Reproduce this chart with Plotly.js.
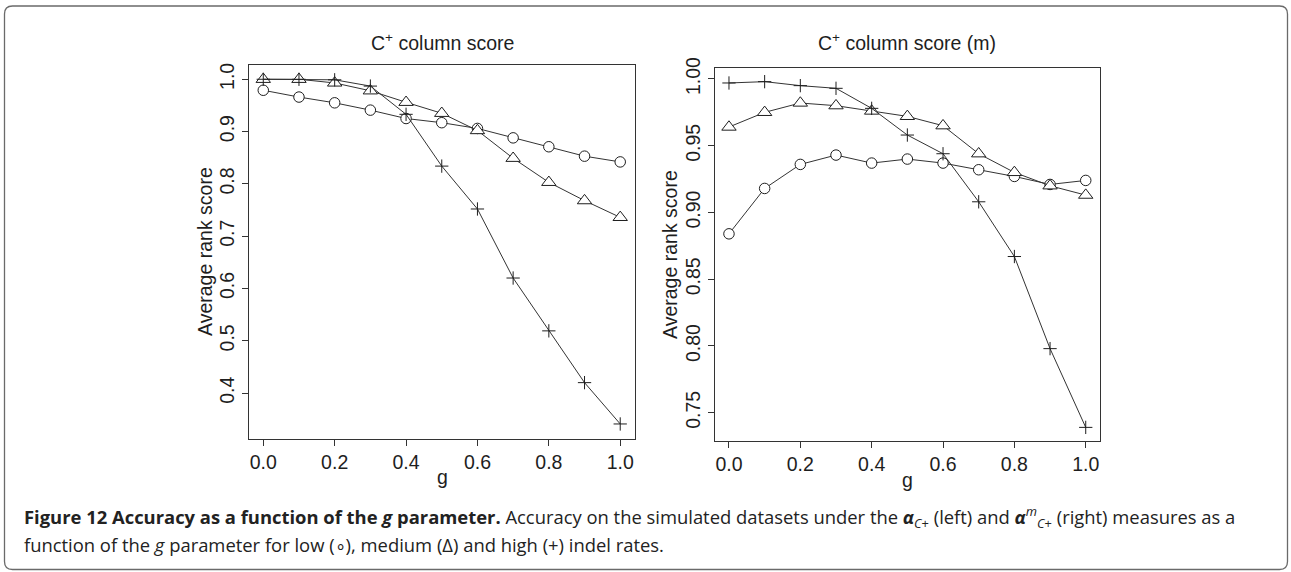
<!DOCTYPE html>
<html>
<head>
<meta charset="utf-8">
<script src="https://cdn.plot.ly/plotly-3.0.1.min.js"></script>
<style>
  html, body { margin: 0; padding: 0; background: #ffffff; }
  #chart { width: 1291px; height: 572px; }
</style>
</head>
<body>
<div id="chart"></div>
<script>
// g parameter values
const gValues = [0.0, 0.1, 0.2, 0.3, 0.4, 0.5, 0.6, 0.7, 0.8, 0.9, 1.0];

// Left panel: C+ column score, average rank score by indel rate
const leftLow  = [0.979, 0.966, 0.955, 0.941, 0.925, 0.917, 0.906, 0.888, 0.871, 0.853, 0.842];
const leftMed  = [1.000, 1.000, 0.993, 0.978, 0.956, 0.935, 0.902, 0.849, 0.803, 0.768, 0.736];
const leftHigh = [1.000, 1.000, 0.999, 0.987, 0.933, 0.834, 0.752, 0.620, 0.519, 0.420, 0.341];

// Right panel: C+ column score (m)
const rightLow  = [0.884, 0.918, 0.936, 0.943, 0.937, 0.940, 0.937, 0.932, 0.927, 0.921, 0.924];
const rightMed  = [0.964, 0.975, 0.982, 0.980, 0.976, 0.972, 0.965, 0.944, 0.930, 0.920, 0.913];
const rightHigh = [0.997, 0.998, 0.995, 0.993, 0.978, 0.958, 0.944, 0.908, 0.867, 0.798, 0.739];

// Tick labels
const xTickVals = [0, 0.2, 0.4, 0.6, 0.8, 1.0];
const xTickText = ["0.0", "0.2", "0.4", "0.6", "0.8", "1.0"];
const leftYTickVals = [0.4, 0.5, 0.6, 0.7, 0.8, 0.9, 1.0];
const leftYTickText = ["0.4", "0.5", "0.6", "0.7", "0.8", "0.9", "1.0"];
const rightYTickVals = [0.75, 0.80, 0.85, 0.90, 0.95, 1.00];
const rightYTickText = ["0.75", "0.80", "0.85", "0.90", "0.95", "1.00"];

const W = 1291, H = 572;
const px = v => v / W;          // horizontal pixel -> paper
const py = v => 1 - v / H;      // vertical pixel -> paper

const INK = '#1e1e1e';
const LINE = '#333333';
const FONT = 'Liberation Sans, Arial, Helvetica, sans-serif';
const FS = 19.5;

function series(x, y, xa, ya, symbol, size) {
  const open = symbol === 'cross-thin-open';
  return {
    x: x, y: y, xaxis: xa, yaxis: ya,
    type: 'scatter', mode: 'lines+markers',
    line: { color: LINE, width: 1 },
    marker: {
      symbol: symbol, size: size,
      color: open ? INK : '#ffffff',
      line: { color: INK, width: 1 }
    },
    hoverinfo: 'x+y', showlegend: false, cliponaxis: false
  };
}

const traces = [
  series(gValues, leftLow,  'x',  'y',  'circle', 10.5),
  series(gValues, leftMed,  'x',  'y',  'triangle-up', 12.5),
  series(gValues, leftHigh, 'x',  'y',  'cross-thin-open', 9.5),
  series(gValues, rightLow,  'x2', 'y2', 'circle', 10.5),
  series(gValues, rightMed,  'x2', 'y2', 'triangle-up', 12.5),
  series(gValues, rightHigh, 'x2', 'y2', 'cross-thin-open', 9.5)
];

function xAxis(domain, anchor) {
  return {
    domain: domain, anchor: anchor, range: [-0.04, 1.04],
    tickmode: 'array', tickvals: xTickVals, ticktext: xTickText,
    ticks: 'outside', ticklen: 6, tickwidth: 1, tickcolor: LINE,
    showline: true, mirror: true, linecolor: LINE, linewidth: 1,
    showgrid: false, zeroline: false,
    tickfont: { family: FONT, size: FS, color: INK }
  };
}
function yAxis(domain, anchor, range, vals, text) {
  return {
    domain: domain, anchor: anchor, range: range,
    tickmode: 'array', tickvals: vals, ticktext: text, tickangle: -90,
    ticks: 'outside', ticklen: 6, tickwidth: 1, tickcolor: LINE,
    showline: true, mirror: true, linecolor: LINE, linewidth: 1,
    showgrid: false, zeroline: false,
    tickfont: { family: FONT, size: FS, color: INK }
  };
}

function label(text, x, y, opts) {
  return Object.assign({
    text: text, xref: 'paper', yref: 'paper', x: px(x), y: py(y),
    xanchor: 'center', yanchor: 'middle', showarrow: false,
    font: { family: FONT, size: FS, color: INK }
  }, opts || {});
}

const capFont = { family: 'Open Sans, Noto Sans, sans-serif', size: 18.4, color: '#222222' };

const annotations = [
  label('C<sup>+</sup> column score', 442, 42),
  label('C<sup>+</sup> column score (m)', 907, 42),
  label('Average rank score', 205, 252, { textangle: -90 }),
  label('Average rank score', 670, 255, { textangle: -90 }),
  label('g', 442, 477),
  label('g', 907, 480),
  {
    text: '<b>Figure 12 Accuracy as a function of the <i>g</i> parameter.</b> Accuracy on the simulated datasets under the ' +
          '<b><i>α</i></b><sub><i>C</i>+</sub> (left) and <b><i>α</i></b><sup><i>m</i></sup><sub><i>C</i>+</sub> (right) measures as a',
    xref: 'paper', yref: 'paper', x: px(22), y: py(517),
    xanchor: 'left', yanchor: 'middle', showarrow: false, font: capFont
  },
  {
    text: 'function of the <i>g</i> parameter for low (∘), medium (Δ) and high (+) indel rates.',
    xref: 'paper', yref: 'paper', x: px(22), y: py(544),
    xanchor: 'left', yanchor: 'middle', showarrow: false, font: capFont
  }
];

// rounded frame around the figure
const fx0 = px(4.5), fx1 = px(1287.5), fy0 = py(6), fy1 = py(569.5);
const rx = px(8), ry = 8 / H;
const framePath =
  `M ${fx0 + rx},${fy0} L ${fx1 - rx},${fy0} Q ${fx1},${fy0} ${fx1},${fy0 - ry} ` +
  `L ${fx1},${fy1 + ry} Q ${fx1},${fy1} ${fx1 - rx},${fy1} ` +
  `L ${fx0 + rx},${fy1} Q ${fx0},${fy1} ${fx0},${fy1 + ry} ` +
  `L ${fx0},${fy0 - ry} Q ${fx0},${fy0} ${fx0 + rx},${fy0} Z`;

const layout = {
  width: W, height: H,
  margin: { l: 0, r: 0, t: 0, b: 0, pad: 0 },
  paper_bgcolor: '#ffffff', plot_bgcolor: '#ffffff',
  showlegend: false,
  xaxis: xAxis([px(249), px(634.5)], 'y'),
  yaxis: yAxis([py(438.5), py(65)], 'x', [0.3132, 1.0273], leftYTickVals, leftYTickText),
  xaxis2: xAxis([px(714.7), px(1100)], 'y2'),
  yaxis2: yAxis([py(441), py(68.3)], 'x2', [0.7288, 1.008], rightYTickVals, rightYTickText),
  annotations: annotations,
  shapes: [{
    type: 'path', xref: 'paper', yref: 'paper', path: framePath,
    line: { color: '#6a6a6a', width: 1.3 }, fillcolor: 'rgba(0,0,0,0)'
  }]
};

Plotly.newPlot('chart', traces, layout, { staticPlot: true, displayModeBar: false });
</script>
</body>
</html>
